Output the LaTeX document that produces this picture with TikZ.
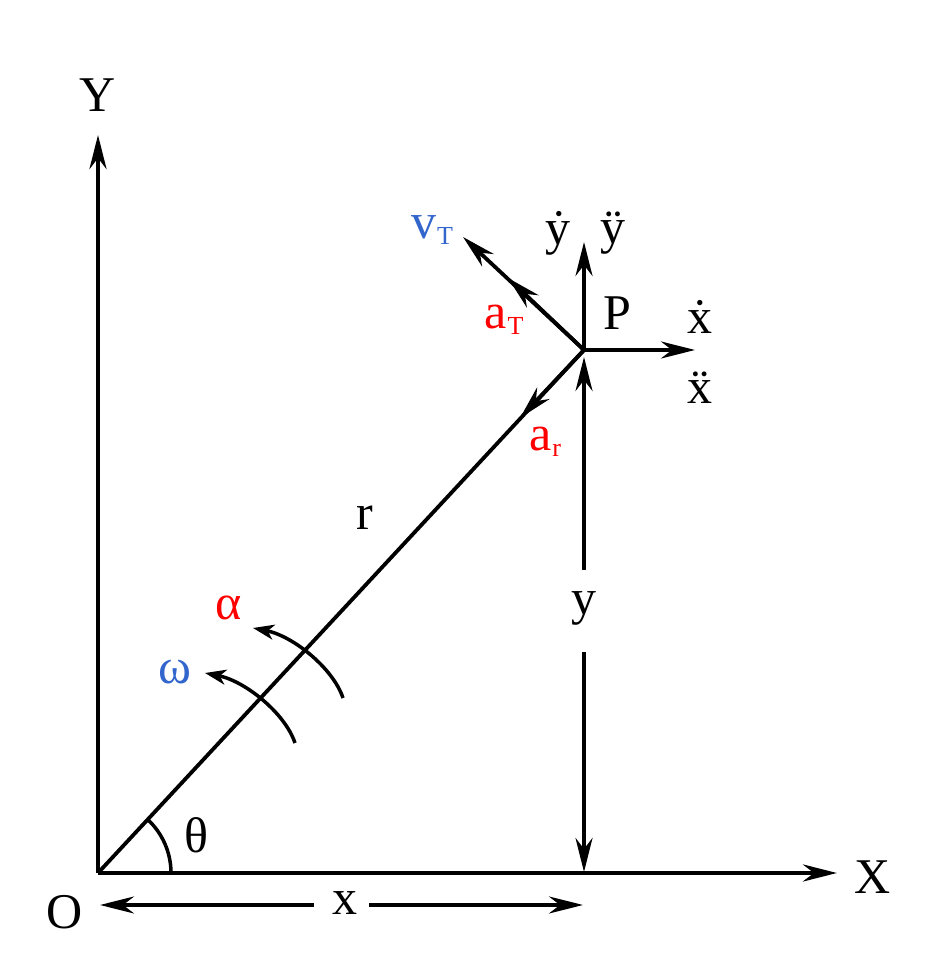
\documentclass[tikz,border=0pt]{standalone}
\usepackage{fontspec}
\setmainfont{LiberationSerif}[Extension=.ttf, UprightFont=*-Regular, BoldFont=*-Bold]
\usetikzlibrary{arrows.meta}
\definecolor{rred}{RGB}{255,0,0}
\definecolor{rblue}{RGB}{51,102,204}
\newcommand{\sub}[1]{\kern1pt\raisebox{-0.12em}{\fontsize{26}{28}\selectfont #1}}
\tikzset{
>={Stealth[length=34pt,width=17pt,inset=11pt]},
lbl/.style={inner sep=0pt, font=\fontsize{50}{56}\selectfont},
vec/.style={line width=3.8pt,->},
spin/.pic={
  \draw[line width=3.5pt,-{Stealth[length=21pt,width=15pt,inset=6pt]}] (0,0) .. controls (-10,30) and (-50,62) .. (-90,70);
  }
}
\begin{document}
\begin{tikzpicture}[x=1pt,y=1pt]
\useasboundingbox (0,0) rectangle (942,971);
\coordinate (O) at (98,98);
\coordinate (P) at (584,621);
\coordinate (Xend) at (837,98);
\coordinate (Yend) at (98,836);

% axes
\draw[line width=4.6pt,->] (O) -- (Xend);
\draw[line width=4.6pt,->] (O) -- (Yend);
\node[lbl] (Xl) at (873,94) {X};
\node[lbl] (Yl) at (98,876) {Y};
\node[lbl] (Ol) at (65,59) {O};

% radius and angle
\draw[line width=3.8pt] (O) -- (P);
\node[lbl] (rl) at (365,453) {r};
\draw[line width=3.5pt] (171,98) arc[start angle=0, end angle=47, radius=73];
\node[lbl] (thl) at (196,136) {θ};
\pic at (295,228) {spin};
\pic at (343,273) {spin};
\node[lbl, text=rblue] (wl) at (175,299) {ω};
\node[lbl, text=rred] (al) at (229,363) {α};

% vectors at P
\coordinate (ar) at (520,553);
\coordinate (aT) at (508,693);
\coordinate (vT) at (463,734);
\coordinate (yd) at (584,729);
\coordinate (xd) at (695,621);
\draw[vec] (P) -- (ar);
\draw[vec] (P) -- (aT);
\draw[vec] (P) -- (vT);
\draw[vec] (P) -- (yd);
\draw[vec] (P) -- (xd);
\node[lbl] (Pl) at (617,658) {P};
\node[lbl] (xdl) at (700,654) {\.{x}};
\node[lbl] (xddl) at (700,583) {\"{x}};
\node[lbl] (ydl) at (558,738) {\.{y}};
\node[lbl] (yddl) at (613,738) {\"{y}};
\node[lbl, text=rblue] (vTl) at (432,741) {v\sub{T}};
\node[lbl, text=rred] (aTl) at (504,651) {a\sub{T}};
\node[lbl, text=rred] (arl) at (545,529) {a\sub{r}};

% dimensions
\node[lbl] (yl) at (584,363) {y};
\coordinate (yup) at (584,614);
\coordinate (ydn) at (584,99);
\draw[vec] (584,401) -- (yup);
\draw[vec] (584,319) -- (ydn);
\node[lbl] (xl) at (345,68) {x};
\coordinate (xlft) at (100,66);
\coordinate (xrgt) at (583,66);
\draw[vec] (314,66) -- (xlft);
\draw[vec] (369,66) -- (xrgt);
\end{tikzpicture}
\end{document}
